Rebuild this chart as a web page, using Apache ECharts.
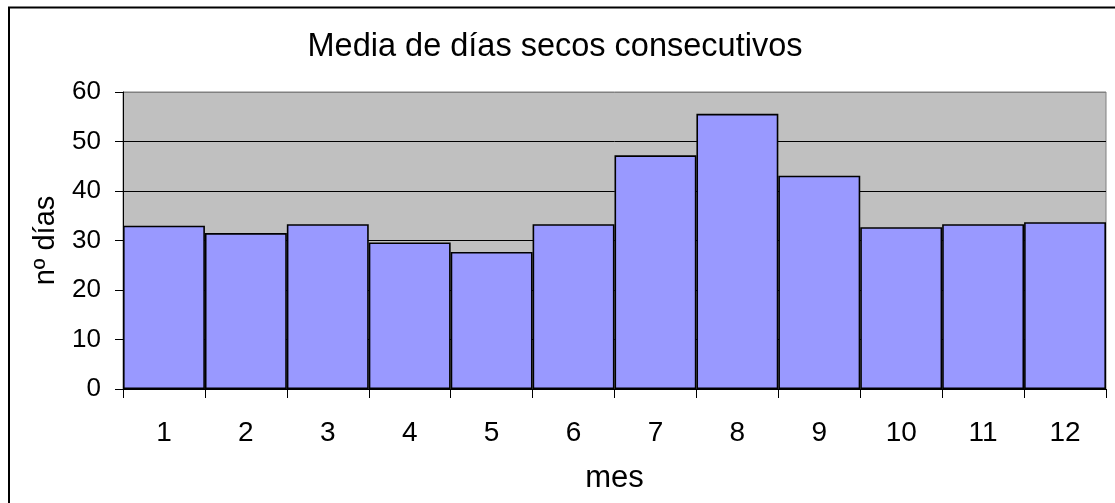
<!DOCTYPE html>
<html>
<head>
<meta charset="utf-8">
<script src="https://cdn.jsdelivr.net/npm/echarts@6/dist/echarts.min.js"></script>
<style>
  html, body { margin: 0; padding: 0; background: #fff; }
  #chart { width: 1115px; height: 503px; }
</style>
</head>
<body>
<div id="chart"></div>
<script>
// Mean number of consecutive dry days per month
const months = ['1', '2', '3', '4', '5', '6', '7', '8', '9', '10', '11', '12'];
const dryDays = [33.0, 31.5, 33.3, 29.6, 27.7, 33.3, 47.2, 55.6, 43.1, 32.7, 33.3, 33.7];
const yTicks = [0, 10, 20, 30, 40, 50, 60];

const FONT = 'Liberation Sans, Arial, sans-serif';

const chart = echarts.init(document.getElementById('chart'), null, { renderer: 'canvas' });

chart.setOption({
  backgroundColor: '#ffffff',
  animation: false,
  title: {
    text: 'Media de días secos consecutivos',
    left: 550,
    top: 26,
    textAlign: 'center',
    textStyle: { fontFamily: FONT, fontSize: 32.5, fontWeight: 'normal', color: '#000' }
  },
  grid: {
    left: 123, right: 9, top: 92, bottom: 114,
    show: true,
    backgroundColor: '#c0c0c0',
    borderColor: '#808080',
    borderWidth: 1
  },
  xAxis: {
    type: 'category',
    data: months,
    name: 'mes',
    nameLocation: 'middle',
    nameGap: 74,
    nameTextStyle: { fontFamily: FONT, fontSize: 31, color: '#000' },
    axisLine: { lineStyle: { color: '#000', width: 1 } },
    axisTick: { show: true, length: 9, alignWithLabel: false, lineStyle: { color: '#000' } },
    axisLabel: { margin: 30, fontFamily: FONT, fontSize: 28, color: '#000' },
    splitLine: { show: false }
  },
  yAxis: {
    type: 'value',
    min: yTicks[0],
    max: yTicks[yTicks.length - 1],
    interval: 10,
    name: 'nº días',
    nameLocation: 'middle',
    nameGap: 63,
    nameTextStyle: { fontFamily: FONT, fontSize: 29, color: '#000' },
    axisLine: { show: true, lineStyle: { color: '#000', width: 1 } },
    axisTick: { show: true, length: 8, lineStyle: { color: '#000' } },
    axisLabel: { margin: 22, fontFamily: FONT, fontSize: 26, color: '#000' },
    splitLine: {
      show: true,
      lineStyle: { color: ['#000', '#000', '#000', '#000', '#000', '#000', '#808080'], width: 1 }
    }
  },
  series: [{
    type: 'bar',
    data: dryDays,
    barCategoryGap: '0%',
    itemStyle: { color: '#9999ff', borderColor: '#000', borderWidth: 1.6 }
  }],
  graphic: [{
    type: 'rect',
    shape: { x: 9, y: 7.5, width: 1200, height: 600 },
    style: { fill: 'none', stroke: '#000', lineWidth: 2 },
    z: 100
  }]
});
</script>
</body>
</html>
